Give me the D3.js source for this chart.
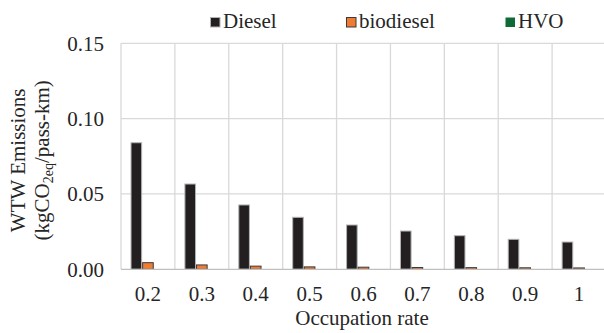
<!DOCTYPE html>
<html>
<head>
<meta charset="utf-8">
<script src="https://cdn.jsdelivr.net/npm/d3@7/dist/d3.min.js"></script>
<style>
  html, body { margin: 0; padding: 0; background: #fff; overflow: hidden; }
</style>
</head>
<body>
<svg id="chart" width="604" height="333"></svg>
<script>
// Occupation rates on the category axis
const categories = ["0.2", "0.3", "0.4", "0.5", "0.6", "0.7", "0.8", "0.9", "1"];
const seriesNames = ["Diesel", "biodiesel", "HVO"];
// WTW emissions, kgCO2eq per passenger-km
const dieselValues    = [0.0840, 0.0566, 0.0427, 0.0345, 0.0294, 0.0254, 0.0223, 0.0199, 0.0181];
const biodieselValues = [0.0044, 0.0029, 0.0021, 0.0016, 0.0014, 0.0012, 0.0011, 0.0010, 0.0009];
const hvoValues       = [0, 0, 0, 0, 0, 0, 0, 0, 0];
const yTicks = [0, 0.05, 0.10, 0.15];

const seriesValues = { "Diesel": dieselValues, "biodiesel": biodieselValues, "HVO": hvoValues };
const fills   = { "Diesel": "#231f20", "biodiesel": "#f07b33", "HVO": "#0f6b35" };
const strokes = { "Diesel": "#b3b3b3", "biodiesel": "#3a3a3a", "HVO": "none" };

const FONT = "'Liberation Serif', 'Times New Roman', serif";
const TEXT_COLOR = "#262626";

const svg = d3.select("#chart");
const plot = { left: 121, right: 606, top: 43.3, bottom: 269.3 };

const x0 = d3.scaleBand().domain(categories).range([plot.left, plot.right]).padding(0);
const x1 = d3.scaleBand().domain(seriesNames).range([0, x0.bandwidth()]).paddingInner(0).paddingOuter(0.82);
const y = d3.scaleLinear().domain([0, 0.15]).range([plot.bottom, plot.top]);

// horizontal gridlines
svg.append("g").selectAll("line").data(yTicks.slice(1)).join("line")
  .attr("x1", plot.left).attr("x2", plot.right)
  .attr("y1", d => y(d)).attr("y2", d => y(d))
  .attr("stroke", "#d9d9d9").attr("stroke-width", 1.3);

// vertical gridlines at category boundaries
const bounds = categories.map(c => x0(c)).concat([plot.right]);
svg.append("g").selectAll("line").data(bounds).join("line")
  .attr("x1", d => d).attr("x2", d => d)
  .attr("y1", plot.top).attr("y2", plot.bottom)
  .attr("stroke", "#d9d9d9").attr("stroke-width", 1.3);

// bars
const groups = svg.append("g").selectAll("g").data(categories).join("g")
  .attr("transform", c => `translate(${x0(c)},0)`);
groups.selectAll("rect")
  .data((c, i) => seriesNames.map(s => ({ s, v: seriesValues[s][i] })))
  .join("rect")
  .attr("x", d => x1(d.s) + 0.5)
  .attr("width", x1.bandwidth() - 1)
  .attr("y", d => y(d.v))
  .attr("height", d => y(0) - y(d.v))
  .attr("fill", d => fills[d.s])
  .attr("stroke", d => d.v > 0 ? strokes[d.s] : "none")
  .attr("stroke-width", 1);

// baseline
svg.append("line")
  .attr("x1", plot.left).attr("x2", plot.right)
  .attr("y1", plot.bottom).attr("y2", plot.bottom)
  .attr("stroke", "#bfbfbf").attr("stroke-width", 1.3);

function styleText(sel, size) {
  sel.style("font-family", FONT).style("font-size", size + "px").style("fill", TEXT_COLOR);
}

// y axis labels
const yAxis = d3.axisLeft(y).tickValues(yTicks).tickFormat(d3.format(".2f")).tickSize(0).tickPadding(17);
const gy = svg.append("g").attr("transform", `translate(${plot.left},0)`).call(yAxis);
gy.select(".domain").remove();
gy.selectAll("text").call(styleText, 21);

// x axis labels
const xAxis = d3.axisBottom(x0).tickSize(0).tickPadding(0);
const gx = svg.append("g").attr("transform", `translate(0,${plot.bottom})`).call(xAxis);
gx.select(".domain").remove();
gx.selectAll("text").attr("dy", null).attr("y", 32).call(styleText, 21);

// axis titles
svg.append("text")
  .attr("x", 362).attr("y", 325)
  .attr("text-anchor", "middle")
  .call(styleText, 21)
  .text("Occupation rate");

const midY = (plot.top + plot.bottom) / 2 + 4;
svg.append("text")
  .attr("transform", `translate(25,${midY}) rotate(-90)`)
  .attr("text-anchor", "middle")
  .call(styleText, 21)
  .text("WTW Emissions");
const line2 = svg.append("text")
  .attr("transform", `translate(49,${midY}) rotate(-90)`)
  .attr("text-anchor", "middle")
  .call(styleText, 21);
line2.append("tspan").text("(kgCO");
line2.append("tspan").style("font-size", "14px").attr("dy", 4).text("2eq");
line2.append("tspan").attr("dy", -4).text("/pass-km)");

// legend
const legendPos = [
  { s: "Diesel", x: 210 },
  { s: "biodiesel", x: 346 },
  { s: "HVO", x: 505 }
];
const lg = svg.append("g").selectAll("g").data(legendPos).join("g")
  .attr("transform", d => `translate(${d.x},17)`);
lg.append("rect")
  .attr("x", 0.5).attr("y", 0.5).attr("width", 9.5).attr("height", 9.5)
  .attr("fill", d => fills[d.s])
  .attr("stroke", d => strokes[d.s]).attr("stroke-width", 1);
lg.append("text")
  .attr("x", 13).attr("y", 10.5)
  .call(styleText, 21)
  .text(d => d.s);
</script>
</body>
</html>
